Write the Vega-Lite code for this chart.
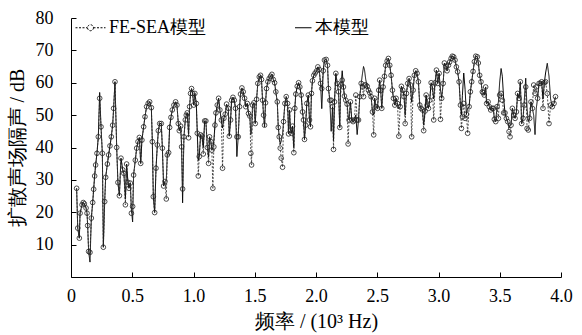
{
  "$schema": "https://vega.github.io/schema/vega-lite/v6.json",
  "width": 490,
  "height": 259,
  "autosize": {"type": "none"},
  "padding": {"left": 71, "top": 18, "right": 21, "bottom": 58},
  "background": "white",
  "config": {
    "view": {"stroke": null},
    "font": "Liberation Serif",
    "axis": {"labelFont": "Liberation Serif", "titleFont": "Liberation Serif"},
    "legend": {"labelFont": "Liberation Serif"},
    "style": {
      "guide-label": {"font": "Liberation Serif"},
      "guide-title": {"font": "Liberation Serif"}
    }
  },
  "data": {"values": [
    {"f":0.046,"a":27.4,"b":27.4},{"f":0.055,"a":15.1,"b":15.1},{"f":0.068,"a":12.0,"b":12.0},{"f":0.074,"a":19.7,"b":19.7},
    {"f":0.090,"a":22.3,"b":22.3},{"f":0.100,"a":23.0,"b":23.0},{"f":0.109,"a":22.6,"b":22.6},{"f":0.123,"a":21.3,"b":21.3},
    {"f":0.131,"a":19.7,"b":19.7},{"f":0.136,"a":15.9,"b":15.9},{"f":0.144,"a":7.9,"b":7.9},{"f":0.155,"a":7.6,"b":4.6},
    {"f":0.166,"a":18.2,"b":18.2},{"f":0.177,"a":23.0,"b":23.0},{"f":0.185,"a":27.1,"b":27.1},{"f":0.193,"a":31.2,"b":31.2},
    {"f":0.201,"a":34.6,"b":34.6},{"f":0.212,"a":38.2,"b":38.2},{"f":0.223,"a":43.3,"b":43.3},{"f":0.234,"a":55.2,"b":57.0},
    {"f":0.245,"a":46.4,"b":46.4},{"f":0.256,"a":38.2,"b":38.2},{"f":0.264,"a":9.2,"b":9.2},{"f":0.275,"a":23.3,"b":23.3},
    {"f":0.283,"a":30.8,"b":30.8},{"f":0.297,"a":34.9,"b":34.9},{"f":0.307,"a":37.7,"b":37.7},{"f":0.318,"a":40.5,"b":40.5},
    {"f":0.329,"a":43.3,"b":43.3},{"f":0.340,"a":46.9,"b":46.9},{"f":0.348,"a":52.1,"b":52.1},{"f":0.359,"a":60.3,"b":60.3},
    {"f":0.373,"a":40.0,"b":40.0},{"f":0.383,"a":29.2,"b":29.2},{"f":0.395,"a":25.1,"b":25.1},{"f":0.408,"a":36.7,"b":36.7},
    {"f":0.422,"a":33.1,"b":33.1},{"f":0.432,"a":32.0,"b":32.0},{"f":0.444,"a":22.3,"b":24.0},{"f":0.454,"a":34.9,"b":34.9},
    {"f":0.465,"a":29.2,"b":29.2},{"f":0.473,"a":27.4,"b":27.4},{"f":0.484,"a":29.0,"b":29.0},{"f":0.493,"a":19.7,"b":21.0},
    {"f":0.503,"a":21.8,"b":17.0},{"f":0.511,"a":31.5,"b":31.5},{"f":0.525,"a":36.1,"b":36.1},{"f":0.536,"a":39.8,"b":39.8},
    {"f":0.547,"a":41.8,"b":41.8},{"f":0.558,"a":43.1,"b":43.1},{"f":0.569,"a":35.1,"b":35.1},{"f":0.579,"a":42.3,"b":42.3},
    {"f":0.593,"a":46.4,"b":46.4},{"f":0.604,"a":49.5,"b":49.5},{"f":0.617,"a":52.6,"b":52.6},{"f":0.630,"a":53.6,"b":53.6},
    {"f":0.642,"a":54.1,"b":54.1},{"f":0.656,"a":52.3,"b":52.3},{"f":0.664,"a":41.8,"b":41.8},{"f":0.672,"a":24.8,"b":24.8},
    {"f":0.683,"a":19.9,"b":19.9},{"f":0.694,"a":33.6,"b":33.6},{"f":0.705,"a":40.8,"b":40.8},{"f":0.713,"a":45.2,"b":45.2},
    {"f":0.724,"a":47.4,"b":47.4},{"f":0.737,"a":47.4,"b":47.4},{"f":0.746,"a":39.8,"b":39.8},{"f":0.756,"a":28.1,"b":28.1},
    {"f":0.767,"a":29.5,"b":29.5},{"f":0.778,"a":24.1,"b":30.0},{"f":0.786,"a":37.7,"b":37.7},{"f":0.797,"a":38.4,"b":38.4},
    {"f":0.805,"a":46.2,"b":46.2},{"f":0.816,"a":49.3,"b":49.3},{"f":0.827,"a":51.6,"b":51.6},{"f":0.840,"a":53.1,"b":53.1},
    {"f":0.854,"a":54.1,"b":54.1},{"f":0.865,"a":53.1,"b":53.1},{"f":0.876,"a":47.4,"b":47.4},{"f":0.884,"a":45.2,"b":45.2},
    {"f":0.895,"a":46.6,"b":46.6},{"f":0.903,"a":40.2,"b":40.2},{"f":0.911,"a":27.2,"b":22.9},{"f":0.922,"a":43.3,"b":43.3},
    {"f":0.933,"a":48.5,"b":48.5},{"f":0.941,"a":50.0,"b":50.0},{"f":0.949,"a":50.7,"b":50.7},{"f":0.960,"a":43.0,"b":44.0},
    {"f":0.968,"a":52.6,"b":52.6},{"f":0.976,"a":56.7,"b":56.7},{"f":0.984,"a":58.2,"b":58.2},{"f":0.993,"a":56.7,"b":56.7},
    {"f":1.001,"a":53.1,"b":53.1},{"f":1.011,"a":56.7,"b":56.7},{"f":1.023,"a":53.6,"b":53.6},{"f":1.031,"a":44.4,"b":44.4},
    {"f":1.039,"a":31.2,"b":36.0},{"f":1.047,"a":37.2,"b":37.2},{"f":1.058,"a":43.9,"b":43.9},{"f":1.069,"a":43.5,"b":43.5},
    {"f":1.080,"a":38.0,"b":40.0},{"f":1.091,"a":48.2,"b":48.2},{"f":1.101,"a":48.2,"b":48.2},{"f":1.113,"a":40.0,"b":40.0},
    {"f":1.123,"a":35.1,"b":37.0},{"f":1.131,"a":43.3,"b":43.3},{"f":1.142,"a":41.8,"b":41.8},{"f":1.150,"a":39.2,"b":39.2},
    {"f":1.158,"a":27.4,"b":40.0},{"f":1.166,"a":40.2,"b":42.0},{"f":1.175,"a":46.9,"b":46.9},{"f":1.183,"a":50.7,"b":50.7},
    {"f":1.194,"a":53.1,"b":53.1},{"f":1.205,"a":55.2,"b":55.2},{"f":1.215,"a":51.6,"b":51.6},{"f":1.227,"a":48.5,"b":48.5},
    {"f":1.237,"a":33.6,"b":46.0},{"f":1.248,"a":49.0,"b":49.0},{"f":1.259,"a":50.3,"b":50.3},{"f":1.270,"a":53.4,"b":53.4},
    {"f":1.284,"a":52.1,"b":52.1},{"f":1.292,"a":43.5,"b":43.5},{"f":1.303,"a":48.5,"b":48.5},{"f":1.311,"a":54.6,"b":54.6},
    {"f":1.322,"a":55.5,"b":55.5},{"f":1.333,"a":54.6,"b":54.6},{"f":1.343,"a":52.1,"b":52.1},{"f":1.354,"a":43.3,"b":37.2},
    {"f":1.365,"a":43.3,"b":43.3},{"f":1.376,"a":52.6,"b":52.6},{"f":1.384,"a":56.5,"b":56.5},{"f":1.395,"a":58.4,"b":58.4},
    {"f":1.406,"a":57.2,"b":57.2},{"f":1.417,"a":55.2,"b":55.2},{"f":1.427,"a":52.6,"b":52.6},{"f":1.439,"a":53.6,"b":53.6},
    {"f":1.449,"a":50.5,"b":50.5},{"f":1.460,"a":49.7,"b":49.7},{"f":1.468,"a":38.2,"b":44.0},{"f":1.474,"a":34.6,"b":45.0},
    {"f":1.482,"a":53.1,"b":53.1},{"f":1.493,"a":53.8,"b":53.8},{"f":1.504,"a":47.4,"b":47.4},{"f":1.515,"a":54.9,"b":54.9},
    {"f":1.525,"a":59.8,"b":59.8},{"f":1.537,"a":61.8,"b":61.8},{"f":1.547,"a":62.3,"b":62.3},{"f":1.555,"a":61.0,"b":61.0},
    {"f":1.564,"a":54.6,"b":54.6},{"f":1.572,"a":50.0,"b":50.0},{"f":1.580,"a":46.9,"b":46.4},{"f":1.588,"a":53.8,"b":53.8},
    {"f":1.596,"a":58.2,"b":58.2},{"f":1.607,"a":60.3,"b":60.3},{"f":1.618,"a":61.3,"b":61.3},{"f":1.629,"a":62.0,"b":62.0},
    {"f":1.640,"a":62.6,"b":62.6},{"f":1.651,"a":61.0,"b":61.0},{"f":1.662,"a":60.0,"b":60.0},{"f":1.672,"a":57.2,"b":57.2},
    {"f":1.684,"a":54.1,"b":54.1},{"f":1.692,"a":46.2,"b":46.2},{"f":1.700,"a":43.3,"b":43.3},{"f":1.708,"a":39.8,"b":41.0},
    {"f":1.716,"a":36.7,"b":42.0},{"f":1.727,"a":33.9,"b":44.0},{"f":1.735,"a":48.0,"b":48.0},{"f":1.746,"a":53.6,"b":53.6},
    {"f":1.757,"a":55.7,"b":55.7},{"f":1.768,"a":53.6,"b":53.6},{"f":1.776,"a":44.2,"b":44.2},{"f":1.784,"a":51.6,"b":51.6},
    {"f":1.792,"a":45.4,"b":45.4},{"f":1.800,"a":44.4,"b":44.4},{"f":1.808,"a":46.6,"b":46.6},{"f":1.819,"a":38.4,"b":40.0},
    {"f":1.827,"a":52.1,"b":52.1},{"f":1.835,"a":56.5,"b":56.5},{"f":1.847,"a":58.9,"b":58.9},{"f":1.858,"a":60.0,"b":60.0},
    {"f":1.868,"a":58.7,"b":58.7},{"f":1.879,"a":56.2,"b":56.2},{"f":1.890,"a":51.0,"b":51.0},{"f":1.898,"a":48.5,"b":48.5},
    {"f":1.906,"a":42.5,"b":42.5},{"f":1.915,"a":46.9,"b":46.9},{"f":1.925,"a":53.6,"b":53.6},{"f":1.937,"a":56.2,"b":56.2},
    {"f":1.947,"a":48.5,"b":48.5},{"f":1.955,"a":46.4,"b":46.4},{"f":1.963,"a":56.7,"b":56.7},{"f":1.971,"a":60.6,"b":60.6},
    {"f":1.982,"a":62.3,"b":62.3},{"f":1.993,"a":63.0,"b":63.0},{"f":2.006,"a":63.7,"b":63.7},{"f":2.015,"a":64.9,"b":64.9},
    {"f":2.026,"a":64.1,"b":64.1},{"f":2.037,"a":59.8,"b":59.8},{"f":2.047,"a":58.2,"b":52.0},{"f":2.059,"a":63.7,"b":63.7},
    {"f":2.069,"a":67.0,"b":67.0},{"f":2.083,"a":67.2,"b":67.2},{"f":2.094,"a":65.4,"b":65.4},{"f":2.102,"a":58.2,"b":58.2},
    {"f":2.113,"a":54.6,"b":54.6},{"f":2.124,"a":54.6,"b":45.0},{"f":2.135,"a":52.6,"b":52.6},{"f":2.143,"a":39.4,"b":42.0},
    {"f":2.151,"a":54.1,"b":54.1},{"f":2.162,"a":62.9,"b":62.9},{"f":2.173,"a":59.8,"b":59.8},{"f":2.184,"a":57.2,"b":57.2},
    {"f":2.194,"a":46.2,"b":46.2},{"f":2.202,"a":59.3,"b":59.3},{"f":2.214,"a":60.8,"b":63.7},{"f":2.224,"a":58.7,"b":58.7},
    {"f":2.232,"a":55.9,"b":55.9},{"f":2.243,"a":54.6,"b":54.6},{"f":2.254,"a":53.4,"b":53.4},{"f":2.262,"a":41.1,"b":50.0},
    {"f":2.270,"a":48.5,"b":48.5},{"f":2.281,"a":54.1,"b":54.1},{"f":2.292,"a":48.5,"b":48.5},{"f":2.303,"a":48.0,"b":48.0},
    {"f":2.314,"a":48.5,"b":48.5},{"f":2.325,"a":56.2,"b":50.0},{"f":2.336,"a":48.5,"b":44.0},{"f":2.347,"a":48.5,"b":48.5},
    {"f":2.357,"a":55.7,"b":55.7},{"f":2.369,"a":59.8,"b":59.8},{"f":2.380,"a":58.7,"b":63.0},{"f":2.388,"a":55.7,"b":65.0},
    {"f":2.396,"a":59.3,"b":64.0},{"f":2.406,"a":59.3,"b":61.0},{"f":2.418,"a":58.9,"b":58.9},{"f":2.428,"a":57.7,"b":57.7},
    {"f":2.439,"a":56.9,"b":56.9},{"f":2.450,"a":55.7,"b":55.7},{"f":2.461,"a":51.0,"b":51.0},{"f":2.471,"a":43.9,"b":50.0},
    {"f":2.479,"a":55.2,"b":55.2},{"f":2.491,"a":52.6,"b":52.6},{"f":2.502,"a":52.1,"b":52.1},{"f":2.512,"a":57.7,"b":57.7},
    {"f":2.520,"a":60.8,"b":60.8},{"f":2.528,"a":57.7,"b":57.7},{"f":2.537,"a":52.1,"b":52.1},{"f":2.548,"a":58.7,"b":58.7},
    {"f":2.559,"a":62.0,"b":62.0},{"f":2.569,"a":65.4,"b":65.4},{"f":2.581,"a":66.7,"b":66.7},{"f":2.591,"a":67.5,"b":67.5},
    {"f":2.602,"a":65.4,"b":65.4},{"f":2.613,"a":62.3,"b":62.3},{"f":2.624,"a":57.7,"b":57.7},{"f":2.632,"a":55.2,"b":55.2},
    {"f":2.643,"a":53.1,"b":53.1},{"f":2.654,"a":55.2,"b":55.2},{"f":2.665,"a":53.6,"b":53.6},{"f":2.676,"a":43.5,"b":52.0},
    {"f":2.687,"a":52.6,"b":52.6},{"f":2.697,"a":58.9,"b":58.9},{"f":2.708,"a":57.7,"b":57.7},{"f":2.719,"a":55.7,"b":55.7},
    {"f":2.728,"a":47.4,"b":50.0},{"f":2.738,"a":56.7,"b":56.7},{"f":2.749,"a":59.8,"b":59.8},{"f":2.760,"a":61.3,"b":61.3},
    {"f":2.771,"a":59.3,"b":59.3},{"f":2.781,"a":43.3,"b":54.0},{"f":2.793,"a":57.7,"b":57.7},{"f":2.803,"a":62.3,"b":62.3},
    {"f":2.814,"a":63.7,"b":63.7},{"f":2.825,"a":62.9,"b":62.9},{"f":2.836,"a":60.3,"b":60.3},{"f":2.847,"a":53.1,"b":53.1},
    {"f":2.858,"a":52.1,"b":52.1},{"f":2.869,"a":51.6,"b":51.6},{"f":2.879,"a":45.2,"b":47.0},{"f":2.891,"a":51.3,"b":51.3},
    {"f":2.899,"a":56.2,"b":56.2},{"f":2.907,"a":53.1,"b":53.1},{"f":2.918,"a":52.1,"b":52.1},{"f":2.928,"a":54.6,"b":54.6},
    {"f":2.940,"a":60.0,"b":60.0},{"f":2.950,"a":58.7,"b":58.7},{"f":2.961,"a":48.5,"b":55.0},{"f":2.972,"a":60.0,"b":60.0},
    {"f":2.983,"a":63.9,"b":63.9},{"f":2.994,"a":59.8,"b":59.8},{"f":3.005,"a":62.9,"b":62.9},{"f":3.016,"a":48.7,"b":58.0},
    {"f":3.026,"a":55.2,"b":55.2},{"f":3.038,"a":59.8,"b":59.8},{"f":3.048,"a":66.1,"b":66.1},{"f":3.059,"a":65.1,"b":65.1},
    {"f":3.070,"a":63.7,"b":63.7},{"f":3.081,"a":65.4,"b":65.4},{"f":3.091,"a":66.4,"b":66.4},{"f":3.103,"a":67.5,"b":67.5},
    {"f":3.113,"a":68.2,"b":68.2},{"f":3.124,"a":68.0,"b":68.0},{"f":3.135,"a":67.0,"b":67.0},{"f":3.146,"a":64.9,"b":64.9},
    {"f":3.156,"a":63.4,"b":63.4},{"f":3.168,"a":60.3,"b":60.3},{"f":3.179,"a":53.1,"b":53.1},{"f":3.187,"a":45.9,"b":50.0},
    {"f":3.195,"a":49.5,"b":56.0},{"f":3.206,"a":53.6,"b":63.0},{"f":3.217,"a":49.0,"b":58.0},{"f":3.228,"a":50.3,"b":50.3},
    {"f":3.238,"a":44.4,"b":52.0},{"f":3.250,"a":52.6,"b":52.6},{"f":3.260,"a":57.2,"b":57.2},{"f":3.271,"a":60.3,"b":60.3},
    {"f":3.282,"a":63.5,"b":63.5},{"f":3.293,"a":66.5,"b":66.5},{"f":3.304,"a":68.2,"b":68.2},{"f":3.317,"a":68.0,"b":68.0},
    {"f":3.325,"a":66.1,"b":66.1},{"f":3.336,"a":62.3,"b":62.3},{"f":3.347,"a":60.3,"b":60.3},{"f":3.358,"a":57.2,"b":57.2},
    {"f":3.366,"a":56.9,"b":56.9},{"f":3.374,"a":56.2,"b":56.2},{"f":3.385,"a":58.7,"b":58.7},{"f":3.393,"a":53.6,"b":53.6},
    {"f":3.405,"a":54.1,"b":54.1},{"f":3.415,"a":52.6,"b":52.6},{"f":3.426,"a":51.6,"b":51.6},{"f":3.437,"a":52.1,"b":52.1},
    {"f":3.448,"a":52.1,"b":52.1},{"f":3.456,"a":48.7,"b":48.7},{"f":3.467,"a":48.0,"b":48.0},{"f":3.478,"a":52.6,"b":52.6},
    {"f":3.489,"a":49.0,"b":54.0},{"f":3.499,"a":56.2,"b":60.0},{"f":3.511,"a":56.7,"b":64.4},{"f":3.521,"a":54.6,"b":62.0},
    {"f":3.532,"a":50.7,"b":55.0},{"f":3.543,"a":50.7,"b":50.7},{"f":3.554,"a":49.0,"b":49.0},{"f":3.565,"a":48.0,"b":48.0},
    {"f":3.576,"a":44.9,"b":46.0},{"f":3.584,"a":43.3,"b":47.0},{"f":3.592,"a":46.9,"b":46.9},{"f":3.603,"a":52.1,"b":52.1},
    {"f":3.614,"a":50.0,"b":50.0},{"f":3.625,"a":49.0,"b":49.0},{"f":3.636,"a":51.0,"b":51.0},{"f":3.646,"a":56.7,"b":56.7},
    {"f":3.658,"a":55.2,"b":55.2},{"f":3.668,"a":60.3,"b":60.3},{"f":3.679,"a":47.4,"b":47.4},{"f":3.690,"a":49.0,"b":49.0},
    {"f":3.701,"a":53.1,"b":55.0},{"f":3.712,"a":58.7,"b":61.4},{"f":3.723,"a":45.9,"b":52.0},{"f":3.733,"a":45.4,"b":48.0},
    {"f":3.744,"a":49.0,"b":49.0},{"f":3.755,"a":54.1,"b":54.1},{"f":3.766,"a":52.1,"b":52.1},{"f":3.777,"a":59.3,"b":50.0},
    {"f":3.788,"a":56.7,"b":44.0},{"f":3.798,"a":58.7,"b":52.0},{"f":3.809,"a":55.2,"b":55.2},{"f":3.821,"a":59.8,"b":59.8},
    {"f":3.831,"a":59.8,"b":59.8},{"f":3.842,"a":60.3,"b":60.3},{"f":3.853,"a":52.1,"b":55.0},{"f":3.864,"a":60.0,"b":60.0},
    {"f":3.874,"a":60.3,"b":63.0},{"f":3.888,"a":56.7,"b":66.0},{"f":3.902,"a":47.4,"b":62.0},{"f":3.915,"a":53.1,"b":55.0},
    {"f":3.929,"a":52.6,"b":52.6},{"f":3.943,"a":53.6,"b":53.6},{"f":3.955,"a":55.7,"b":55.7}
  ]},
  "transform": [{"fold": ["a", "b"], "as": ["s", "v"]}],
  "encoding": {
    "x": {
      "field": "f", "type": "quantitative",
      "scale": {"domain": [0, 4], "nice": false, "zero": false},
      "axis": {
        "title": "频率 / (10³ Hz)",
        "grid": false,
        "domainColor": "black",
        "tickColor": "black",
        "tickSize": -5,
        "labelFont": "Liberation Serif",
        "labelFontSize": 18,
        "labelColor": "black",
        "titleFont": "Liberation Serif",
        "titleFontSize": 20,
        "titleFontWeight": "normal",
        "titleColor": "black",
        "values": [0, 0.5, 1, 1.5, 2, 2.5, 3, 3.5, 4],
        "labelExpr": "datum.value === 0 ? '0\u00a0\u00a0\u00a0\u00a0\u00a0' : format(datum.value, '.1f')",
        "labelPadding": 15,
        "titlePadding": 6,
        "labelFlush": false,
        "labelOverlap": false,
        "encode": {"labels": {"update": {"font": {"value": "Liberation Serif"}}}}
      }
    },
    "y": {
      "field": "v", "type": "quantitative",
      "scale": {"domain": [0, 80], "nice": false},
      "axis": {
        "title": "扩散声场隔声 / dB",
        "grid": false,
        "domainColor": "black",
        "tickColor": "black",
        "tickSize": -5,
        "labelFont": "Liberation Serif",
        "labelFontSize": 18,
        "labelColor": "black",
        "titleFont": "Liberation Serif",
        "titleFontSize": 20,
        "titleFontWeight": "normal",
        "titleColor": "black",
        "values": [10, 20, 30, 40, 50, 60, 70, 80],
        "labelOverlap": false,
        "labelPadding": 23,
        "titlePadding": 8,
        "encode": {"labels": {"update": {"font": {"value": "Liberation Serif"}}}}
      }
    }
  },
  "layer": [
    {
      "transform": [{"filter": "datum.s === 'b'"}],
      "mark": {"type": "line", "color": "black", "strokeWidth": 1},
      "encoding": {
        "strokeDash": {
          "datum": "本模型", "type": "nominal",
          "scale": {"domain": ["FE-SEA模型", "本模型"], "range": [[2, 1.5], [1, 0]]},
          "legend": {
            "orient": "none",
            "legendX": 4,
            "legendY": -6,
            "direction": "horizontal",
            "title": null,
            "symbolSize": 900,
            "symbolStrokeWidth": 1,
            "symbolStrokeColor": "black",
            "symbolFillColor": "transparent",
            "labelFont": "Liberation Serif",
            "labelFontSize": 18,
            "labelColor": "black",
            "labelOffset": 3,
            "columnPadding": 74,
            "encode": {
              "labels": {"update": {"font": {"value": "Liberation Serif"}}},
              "symbols": {
                "update": {
                  "shape": {"signal": "datum.value === 'FE-SEA模型' ? 'M-1,0L-0.2,0M0.2,0L1,0M0.2,0A0.2,0.2,0,1,1,-0.2,0A0.2,0.2,0,1,1,0.2,0' : 'M-0.1,0L1,0'"},
                  "strokeDash": {"signal": "datum.value === 'FE-SEA模型' ? [2, 1] : [1, 0]"},
                  "fill": {"value": "transparent"}
                }
              }
            }
          }
        }
      }
    },
    {
      "transform": [{"filter": "datum.s === 'a'"}],
      "mark": {"type": "line", "color": "#222", "strokeWidth": 0.8},
      "encoding": {
        "strokeDash": {"datum": "FE-SEA模型", "type": "nominal"}
      }
    },
    {
      "transform": [{"filter": "datum.s === 'a'"}],
      "mark": {"type": "point", "filled": false, "color": "#222", "size": 22, "strokeWidth": 0.8, "opacity": 1}
    }
  ]
}
